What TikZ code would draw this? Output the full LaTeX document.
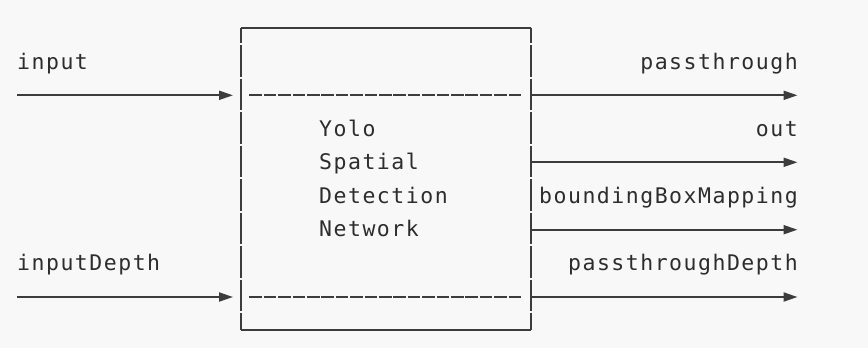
\documentclass[tikz,border=0pt]{standalone}
\usepackage{fontspec}
\usepackage{tikz}
\usetikzlibrary{arrows.meta,positioning,calc}
\newfontfamily\asciifont[LetterSpace=7]{DejaVu Sans Mono}
\definecolor{inkgray}{RGB}{60,60,60}
\definecolor{textgray}{RGB}{45,45,45}
\definecolor{bgpanel}{RGB}{248,248,248}

\begin{document}
\begin{tikzpicture}[x=1pt, y=-1pt,
    lbl/.style={font=\asciifont\fontsize{21.5}{25}\selectfont, text=textgray, inner sep=0pt},
    frame/.style={draw=inkgray, line width=2pt},
    side/.style={dash pattern=on 31.5pt off 2pt, dash phase=16pt},
    sepline/.style={draw=inkgray, line width=2pt, dash pattern=on 12.6pt off 1.8pt},
    port/.style={-{Triangle[length=14pt, width=9pt]}, line width=2pt, draw=inkgray}
]
\fill[bgpanel] (0,0) rectangle (868,348);
\useasboundingbox (0,0) rectangle (868,348);

% the node box
\node[minimum width=290pt, minimum height=302.5pt, outer sep=0pt, inner sep=0pt] (yolo) at (386,178.75) {};
\draw[frame] (yolo.north west) -- (yolo.north east);
\draw[frame] (yolo.south west) -- (yolo.south east);
\draw[frame, side] (yolo.north west) -- (yolo.south west);
\draw[frame, side] (yolo.north east) -- (yolo.south east);

% inner separators
\coordinate (septop) at (249.3,95.3);
\coordinate (sepbot) at (249.3,297);
\draw[sepline] (septop) -- ++(272,0);
\draw[sepline] (sepbot) -- ++(272,0);

% title
\node[lbl, anchor=base west] (yolo1) at (319,136) {Yolo};
\node[lbl, anchor=base west] (yolo2) at (319,169.5) {Spatial};
\node[lbl, anchor=base west] (yolo3) at (319,203) {Detection};
\node[lbl, anchor=base west] (yolo4) at (319,236.5) {Network};

% inputs
\coordinate (in1) at (17,95.3);
\coordinate (in2) at (17,297);
\node[lbl, anchor=base west] (in1lbl) at (17,69) {input};
\node[lbl, anchor=base west] (in2lbl) at (17,270) {inputDepth};
\draw[port] (in1) -- ([xshift=-8pt]in1 -| yolo.west);
\draw[port] (in2) -- ([xshift=-8pt]in2 -| yolo.west);

% outputs
\coordinate (out1) at (797.5,95.3);
\coordinate (out2) at (797.5,162.3);
\coordinate (out3) at (797.5,229.7);
\coordinate (out4) at (797.5,297);
\node[lbl, anchor=base east] (out1lbl) at (798,69) {passthrough};
\node[lbl, anchor=base east] (out2lbl) at (798,136) {out};
\node[lbl, anchor=base east] (out3lbl) at (798,203) {boundingBoxMapping};
\node[lbl, anchor=base east] (out4lbl) at (798,270) {passthroughDepth};
\draw[port] (out1 -| yolo.east) -- (out1);
\draw[port] (out2 -| yolo.east) -- (out2);
\draw[port] (out3 -| yolo.east) -- (out3);
\draw[port] (out4 -| yolo.east) -- (out4);
\end{tikzpicture}
\end{document}
